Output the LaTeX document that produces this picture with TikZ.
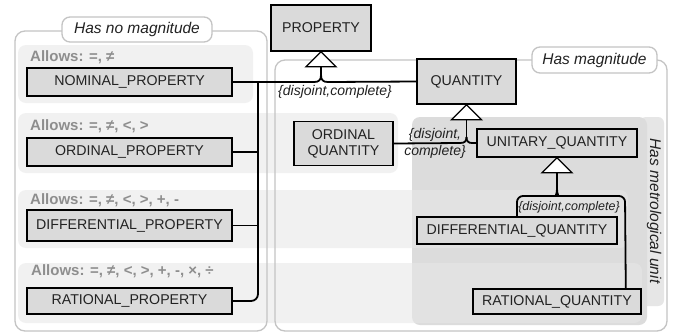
\documentclass[tikz,border=0pt]{standalone}
\usepackage{fontspec}
\setmainfont{Liberation Sans}
\usetikzlibrary{calc}
\definecolor{boxfill}{HTML}{DADADA}
\definecolor{textdark}{HTML}{222222}
\definecolor{grpline}{HTML}{C4C4C4}
\definecolor{allowgray}{HTML}{8E8E8E}
\definecolor{darkreg}{HTML}{DCDCDC}
\definecolor{tabc}{HTML}{E6E6E6}
\begin{document}
\begin{tikzpicture}[x=1pt,y=-1pt,
  cls/.style={draw=black, line width=1.6pt, fill=boxfill, text=textdark, inner sep=0pt, font=\fontsize{14.2}{16}\selectfont},
  band/.style={fill=black!9, fill opacity=0.57, draw=none, rounded corners=8pt},
  grp/.style={draw=grpline, line width=1.3pt, rounded corners=10pt},
  grplabel/.style={draw=grpline, line width=1.3pt, fill=white, rounded corners=8pt, inner sep=0pt, font=\fontsize{15.5}{17}\selectfont\itshape, text=textdark},
  allows/.style={anchor=west, inner sep=0pt, font=\fontsize{15}{17}\selectfont\bfseries, text=allowgray},
  conn/.style={draw=black, line width=1.8pt},
  gen/.style={draw=black, line width=1.3pt, fill=white, line join=miter},
  gset/.style={inner sep=0pt, font=\fontsize{14}{17}\selectfont\itshape, text=textdark},
]
\useasboundingbox (0,0) rectangle (674,333);
\fill[white] (0,0) rectangle (674,333);

% metrological unit region
\fill[tabc, rounded corners=6pt] (640,117) rectangle (664,306);
\fill[darkreg, rounded corners=8pt] (412,117) rectangle (647,325);

% bands
\fill[band] (18,45) rectangle (253,103);
\fill[band] (18,113) rectangle (398,173);
\fill[band] (18,190) rectangle (628,248);
\fill[band] (18,263) rectangle (642,323);

% groups
\draw[grp] (15,31) rectangle (267,331);
\draw[grp] (275,60) rectangle (667,331);
\node[grplabel, minimum width=150, minimum height=25] (l1) at (137,29.5) {Has no magnitude};
\node[grplabel, minimum width=125, minimum height=26] (l2) at (594.5,60) {Has magnitude};
\node[rotate=-90, font=\fontsize{15.5}{17}\selectfont\itshape, text=textdark, inner sep=0pt] (ml) at (654,211) {Has metrological unit};

% allows labels
\node[allows] (a1) at (30,57) {Allows: =, ≠};
\node[allows] (a2) at (30,126) {Allows: =, ≠, <, >};
\node[allows] (a3) at (30,200) {Allows: =, ≠, <, >, +, -};
\node[allows] (a4) at (31,271) {Allows: =, ≠, <, >, +, -, ×, ÷};

% classes
\node[cls, minimum width=100, minimum height=46] (prop) at (321,28) {PROPERTY};
\node[cls, minimum width=99, minimum height=45] (quant) at (466.5,81.5) {QUANTITY};
\node[cls, minimum width=99, minimum height=44, align=center] (ordq) at (343.5,143.5) {ORDINAL\\QUANTITY};
\node[cls, minimum width=160, minimum height=28] (unit) at (557,143) {UNITARY\_QUANTITY};
\node[cls, minimum width=200, minimum height=27] (diffq) at (517,230.5) {DIFFERENTIAL\_QUANTITY};
\node[cls, minimum width=168, minimum height=25] (ratq) at (557,301.5) {RATIONAL\_QUANTITY};
\node[cls, minimum width=205, minimum height=28] (nom) at (129.5,82) {NOMINAL\_PROPERTY};
\node[cls, minimum width=205, minimum height=28] (ordp) at (129.5,152) {ORDINAL\_PROPERTY};
\node[cls, minimum width=205, minimum height=31] (diffp) at (129.5,225.5) {DIFFERENTIAL\_PROPERTY};
\node[cls, minimum width=205, minimum height=26] (ratp) at (129.5,301) {RATIONAL\_PROPERTY};

% generalization 1
\coordinate (t1) at ($(prop.south)+(0,15)$);
\coordinate (j1) at (321,75);
\draw[conn] (t1) -- (j1);
\draw[conn] (nom.east) -- (314,82) .. controls (319,82) and (321,80) .. (j1);
\draw[conn] (quant.west) -- (328,82) .. controls (323,82) and (321,80) .. (j1);
\draw[conn, rounded corners=7pt] (ratp.east) -- (258,301) -- (258,82);
\draw[conn] (ordp.east) -- (258,152);
\draw[conn] (diffp.east) -- (258,225.5);
\draw[gen] (prop.south) -- ++(-15,15) -- ++(30,0) -- cycle;
\node[gset] (gs1) at (335,92) {\{disjoint,complete\}};

% generalization 2
\coordinate (t2) at ($(quant.south)+(0,15)$);
\coordinate (j2) at (466.5,137);
\draw[conn] (t2) -- (j2);
\draw[conn] (ordq.east) -- (460,143) .. controls (465,143) and (466.5,141) .. (j2);
\draw[conn] (unit.west) -- (472,143) .. controls (468,143) and (466.5,141) .. (j2);
\draw[gen] (quant.south) -- ++(-15,15) -- ++(30,0) -- cycle;
\node[gset, align=center] (gs2) at (435,143.5) {\{disjoint,\\complete\}};

% generalization 3
\coordinate (t3) at ($(unit.south)+(0,15)$);
\coordinate (j3) at (557,189);
\draw[conn] (t3) -- (j3);
\draw[conn, rounded corners=6pt] (diffq.north) -- (517,196) -- (550,196) .. controls (555,196) and (557,194) .. (j3);
\draw[conn, rounded corners=6pt] ([xshift=-16pt]ratq.north east) -- (625,196) -- (564,196) .. controls (559,196) and (557,194) .. (j3);
\draw[gen] (unit.south) -- ++(-15,15) -- ++(30,0) -- cycle;
\node[gset, font=\fontsize{12.5}{14}\selectfont\itshape] (gs3) at (569,207) {\{disjoint,complete\}};
\end{tikzpicture}
\end{document}
